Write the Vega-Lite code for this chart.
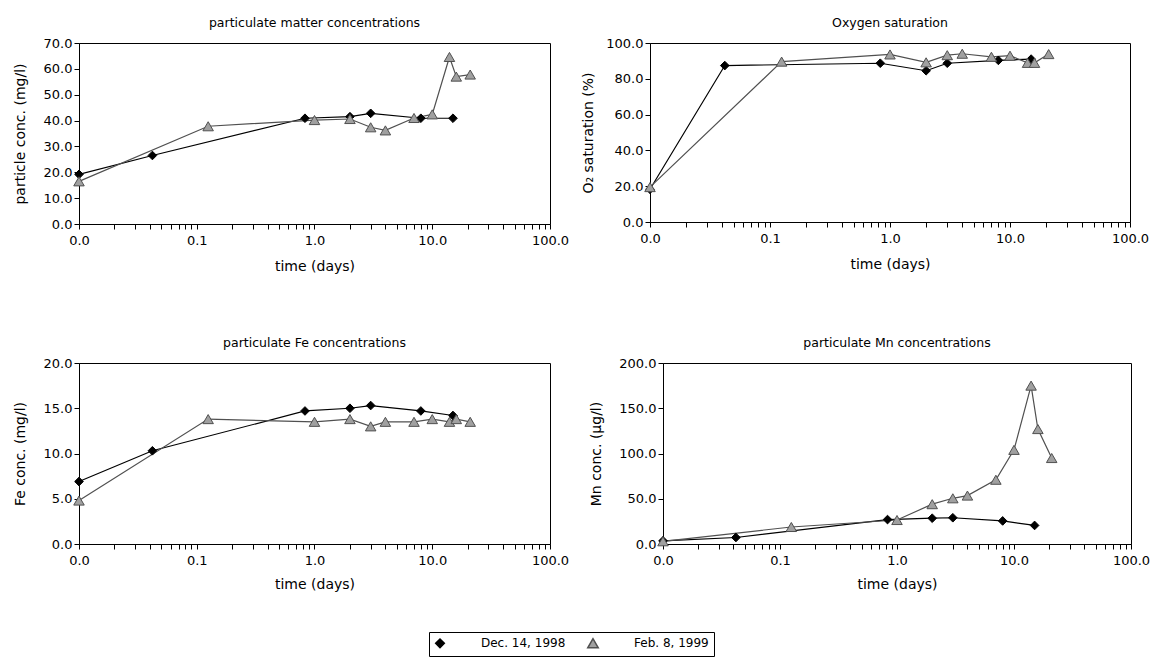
{
  "$schema": "https://vega.github.io/schema/vega-lite/v6.json",
  "padding": {"left": 12, "top": 16, "right": 5, "bottom": 5},
  "background": "white",
  "config": {
    "font": "DejaVu Sans",
    "view": {"stroke": "#000000", "strokeWidth": 1},
    "title": {"font": "DejaVu Sans", "fontSize": 12.5, "fontWeight": "normal", "color": "#000000", "offset": 8},
    "axis": {"labelFont": "DejaVu Sans", "titleFont": "DejaVu Sans", "labelFontSize": 13, "titleFontSize": 14, "titleFontWeight": "normal", "labelColor": "#000000", "titleColor": "#000000", "domainColor": "#000000", "tickColor": "#000000", "grid": false},
    "legend": {"labelFont": "DejaVu Sans", "labelFontSize": 12, "labelColor": "#000000"}
  },
  "datasets": {
    "d": [
      {"p": "pm", "s": "Dec. 14, 1998", "t": 0.01, "v": 19.2},
      {"p": "pm", "s": "Dec. 14, 1998", "t": 0.042, "v": 26.5},
      {"p": "pm", "s": "Dec. 14, 1998", "t": 0.83, "v": 40.9},
      {"p": "pm", "s": "Dec. 14, 1998", "t": 2, "v": 41.5},
      {"p": "pm", "s": "Dec. 14, 1998", "t": 3, "v": 42.8},
      {"p": "pm", "s": "Dec. 14, 1998", "t": 8, "v": 40.9},
      {"p": "pm", "s": "Dec. 14, 1998", "t": 15, "v": 40.9},
      {"p": "pm", "s": "Feb. 8, 1999", "t": 0.01, "v": 16.5},
      {"p": "pm", "s": "Feb. 8, 1999", "t": 0.125, "v": 37.8},
      {"p": "pm", "s": "Feb. 8, 1999", "t": 1, "v": 40.2},
      {"p": "pm", "s": "Feb. 8, 1999", "t": 2, "v": 40.6},
      {"p": "pm", "s": "Feb. 8, 1999", "t": 3, "v": 37.4},
      {"p": "pm", "s": "Feb. 8, 1999", "t": 4, "v": 36.2},
      {"p": "pm", "s": "Feb. 8, 1999", "t": 7, "v": 41},
      {"p": "pm", "s": "Feb. 8, 1999", "t": 10, "v": 42.4},
      {"p": "pm", "s": "Feb. 8, 1999", "t": 14, "v": 64.6},
      {"p": "pm", "s": "Feb. 8, 1999", "t": 16, "v": 57},
      {"p": "pm", "s": "Feb. 8, 1999", "t": 21, "v": 57.8},
      {"p": "o2", "s": "Dec. 14, 1998", "t": 0.01, "v": 18.3},
      {"p": "o2", "s": "Dec. 14, 1998", "t": 0.042, "v": 87.4},
      {"p": "o2", "s": "Dec. 14, 1998", "t": 0.83, "v": 88.7},
      {"p": "o2", "s": "Dec. 14, 1998", "t": 2, "v": 84.5},
      {"p": "o2", "s": "Dec. 14, 1998", "t": 3, "v": 88.7},
      {"p": "o2", "s": "Dec. 14, 1998", "t": 8, "v": 90.3},
      {"p": "o2", "s": "Dec. 14, 1998", "t": 15, "v": 91},
      {"p": "o2", "s": "Feb. 8, 1999", "t": 0.01, "v": 19.5},
      {"p": "o2", "s": "Feb. 8, 1999", "t": 0.125, "v": 89.6},
      {"p": "o2", "s": "Feb. 8, 1999", "t": 1, "v": 93.6},
      {"p": "o2", "s": "Feb. 8, 1999", "t": 2, "v": 89.2},
      {"p": "o2", "s": "Feb. 8, 1999", "t": 3, "v": 93.2},
      {"p": "o2", "s": "Feb. 8, 1999", "t": 4, "v": 94},
      {"p": "o2", "s": "Feb. 8, 1999", "t": 7, "v": 92.3},
      {"p": "o2", "s": "Feb. 8, 1999", "t": 10, "v": 92.9},
      {"p": "o2", "s": "Feb. 8, 1999", "t": 14, "v": 88.9},
      {"p": "o2", "s": "Feb. 8, 1999", "t": 16, "v": 88.9},
      {"p": "o2", "s": "Feb. 8, 1999", "t": 21, "v": 93.8},
      {"p": "fe", "s": "Dec. 14, 1998", "t": 0.01, "v": 6.9},
      {"p": "fe", "s": "Dec. 14, 1998", "t": 0.042, "v": 10.3},
      {"p": "fe", "s": "Dec. 14, 1998", "t": 0.83, "v": 14.7},
      {"p": "fe", "s": "Dec. 14, 1998", "t": 2, "v": 15},
      {"p": "fe", "s": "Dec. 14, 1998", "t": 3, "v": 15.3},
      {"p": "fe", "s": "Dec. 14, 1998", "t": 8, "v": 14.7},
      {"p": "fe", "s": "Dec. 14, 1998", "t": 15, "v": 14.2},
      {"p": "fe", "s": "Feb. 8, 1999", "t": 0.01, "v": 4.8},
      {"p": "fe", "s": "Feb. 8, 1999", "t": 0.125, "v": 13.8},
      {"p": "fe", "s": "Feb. 8, 1999", "t": 1, "v": 13.5},
      {"p": "fe", "s": "Feb. 8, 1999", "t": 2, "v": 13.8},
      {"p": "fe", "s": "Feb. 8, 1999", "t": 3, "v": 13},
      {"p": "fe", "s": "Feb. 8, 1999", "t": 4, "v": 13.5},
      {"p": "fe", "s": "Feb. 8, 1999", "t": 7, "v": 13.5},
      {"p": "fe", "s": "Feb. 8, 1999", "t": 10, "v": 13.8},
      {"p": "fe", "s": "Feb. 8, 1999", "t": 14, "v": 13.5},
      {"p": "fe", "s": "Feb. 8, 1999", "t": 16, "v": 13.8},
      {"p": "fe", "s": "Feb. 8, 1999", "t": 21, "v": 13.5},
      {"p": "mn", "s": "Dec. 14, 1998", "t": 0.01, "v": 3.5},
      {"p": "mn", "s": "Dec. 14, 1998", "t": 0.042, "v": 7.2},
      {"p": "mn", "s": "Dec. 14, 1998", "t": 0.83, "v": 27},
      {"p": "mn", "s": "Dec. 14, 1998", "t": 2, "v": 28.5},
      {"p": "mn", "s": "Dec. 14, 1998", "t": 3, "v": 29},
      {"p": "mn", "s": "Dec. 14, 1998", "t": 8, "v": 25.5},
      {"p": "mn", "s": "Dec. 14, 1998", "t": 15, "v": 20.5},
      {"p": "mn", "s": "Feb. 8, 1999", "t": 0.01, "v": 3},
      {"p": "mn", "s": "Feb. 8, 1999", "t": 0.125, "v": 18.8},
      {"p": "mn", "s": "Feb. 8, 1999", "t": 1, "v": 26.5},
      {"p": "mn", "s": "Feb. 8, 1999", "t": 2, "v": 44},
      {"p": "mn", "s": "Feb. 8, 1999", "t": 3, "v": 50.5},
      {"p": "mn", "s": "Feb. 8, 1999", "t": 4, "v": 53.5},
      {"p": "mn", "s": "Feb. 8, 1999", "t": 7, "v": 71},
      {"p": "mn", "s": "Feb. 8, 1999", "t": 10, "v": 104},
      {"p": "mn", "s": "Feb. 8, 1999", "t": 14, "v": 175},
      {"p": "mn", "s": "Feb. 8, 1999", "t": 16, "v": 127},
      {"p": "mn", "s": "Feb. 8, 1999", "t": 21, "v": 95}
    ]
  },
  "spacing": 62,
  "vconcat": [
    {
      "spacing": 11,
      "hconcat": [
        {
          "width": 471, "height": 181,
          "title": "particulate matter concentrations",
          "data": {"name": "d"},
          "transform": [{"filter": "datum.p == 'pm'"}],
          "encoding": {
            "x": {"field": "t", "type": "quantitative", "title": "time (days)", "scale": {"type": "log", "domain": [0.01, 100], "nice": false},
              "axis": {"values": [0.01,0.02,0.03,0.04,0.05,0.06,0.07,0.08,0.09,0.1,0.2,0.3,0.4,0.5,0.6,0.7,0.8,0.9,1,2,3,4,5,6,7,8,9,10,20,30,40,50,60,70,80,90,100],
                "labelExpr": "abs(log(datum.value)/LN10 - round(log(datum.value)/LN10)) < 0.000001 ? format(datum.value, '.1f') : ''",
                "labelFlush": false, "labelOverlap": false, "tickSize": 5, "labelPadding": 5, "titlePadding": 12,
                "encode": {"ticks": {"update": {"y": {"signal": "abs(log(datum.value)/LN10 - round(log(datum.value)/LN10)) < 0.000001 ? -5 : -3"}, "y2": {"signal": "abs(log(datum.value)/LN10 - round(log(datum.value)/LN10)) < 0.000001 ? 5 : 1"}}}}}},
            "y": {"field": "v", "type": "quantitative", "title": "particle conc. (mg/l)", "scale": {"domain": [0, 70], "nice": false},
              "axis": {"values": [0,10,20,30,40,50,60,70], "format": ".1f", "tickSize": 5, "labelPadding": 2, "titlePadding": 16}}
          },
          "layer": [
            {"mark": {"type": "line", "strokeWidth": 1.2},
             "encoding": {"stroke": {"field": "s", "type": "nominal", "scale": {"domain": ["Dec. 14, 1998", "Feb. 8, 1999"], "range": ["#000000", "#505050"]}}}},
            {"mark": {"type": "point", "filled": true, "strokeWidth": 1, "opacity": 1},
             "encoding": {
               "shape": {"field": "s", "type": "nominal", "scale": {"domain": ["Dec. 14, 1998", "Feb. 8, 1999"], "range": ["diamond", "triangle-up"]},
                 "legend": {"title": null, "orient": "none", "legendX": 350, "legendY": 589, "direction": "horizontal", "strokeColor": "#000000", "padding": 5, "symbolSize": 100, "labelOffset": 35, "columnPadding": 18,
                   "encode": {"symbols": {
                     "shape": {"value": {"expr": "datum.value === 'Dec. 14, 1998' ? 'M-0.6,0H2.6M4.4,0H7.6M3.5,-0.9L4.4,0L3.5,0.9L2.6,0Z' : 'M-0.6,0H3M4,0H7.6M3.5,-0.87L4.5,0.87L2.5,0.87Z'"}},
                     "fill": {"value": {"expr": "datum.value === 'Dec. 14, 1998' ? '#000000' : '#a0a0a0'"}},
                     "stroke": {"value": "#000000"}, "strokeWidth": {"value": 1}, "opacity": {"value": 1}}}}},
               "fill": {"field": "s", "type": "nominal", "scale": {"domain": ["Dec. 14, 1998", "Feb. 8, 1999"], "range": ["#000000", "#a0a0a0"]}},
               "stroke": {"field": "s", "type": "nominal"},
               "size": {"field": "s", "type": "nominal", "scale": {"domain": ["Dec. 14, 1998", "Feb. 8, 1999"], "range": [75, 110]}}
             }}
          ]
        },
        {
          "width": 480, "height": 179,
          "title": "Oxygen saturation",
          "data": {"name": "d"},
          "transform": [{"filter": "datum.p == 'o2'"}],
          "encoding": {
            "x": {"field": "t", "type": "quantitative", "title": "time (days)", "scale": {"type": "log", "domain": [0.01, 100], "nice": false},
              "axis": {"values": [0.01,0.02,0.03,0.04,0.05,0.06,0.07,0.08,0.09,0.1,0.2,0.3,0.4,0.5,0.6,0.7,0.8,0.9,1,2,3,4,5,6,7,8,9,10,20,30,40,50,60,70,80,90,100],
                "labelExpr": "abs(log(datum.value)/LN10 - round(log(datum.value)/LN10)) < 0.000001 ? format(datum.value, '.1f') : ''",
                "labelFlush": false, "labelOverlap": false, "tickSize": 5, "labelPadding": 5, "titlePadding": 12,
                "encode": {"ticks": {"update": {"y": {"signal": "abs(log(datum.value)/LN10 - round(log(datum.value)/LN10)) < 0.000001 ? -5 : -3"}, "y2": {"signal": "abs(log(datum.value)/LN10 - round(log(datum.value)/LN10)) < 0.000001 ? 5 : 1"}}}}}},
            "y": {"field": "v", "type": "quantitative", "title": "O₂ saturation (%)", "scale": {"domain": [0, 100], "nice": false},
              "axis": {"values": [0,20,40,60,80,100], "format": ".1f", "tickSize": 5, "labelPadding": 2, "titlePadding": 10}}
          },
          "layer": [
            {"mark": {"type": "line", "strokeWidth": 1.2},
             "encoding": {"stroke": {"field": "s", "type": "nominal", "scale": {"domain": ["Dec. 14, 1998", "Feb. 8, 1999"], "range": ["#000000", "#505050"]}}}},
            {"mark": {"type": "point", "filled": true, "strokeWidth": 1, "opacity": 1},
             "encoding": {
               "shape": {"field": "s", "type": "nominal", "scale": {"domain": ["Dec. 14, 1998", "Feb. 8, 1999"], "range": ["diamond", "triangle-up"]}},
               "fill": {"field": "s", "type": "nominal", "scale": {"domain": ["Dec. 14, 1998", "Feb. 8, 1999"], "range": ["#000000", "#a0a0a0"]}},
               "stroke": {"field": "s", "type": "nominal"},
               "size": {"field": "s", "type": "nominal", "scale": {"domain": ["Dec. 14, 1998", "Feb. 8, 1999"], "range": [75, 110]}}
             }}
          ]
        }
      ]
    },
    {
      "spacing": 19,
      "hconcat": [
        {
          "width": 471, "height": 181,
          "title": "particulate Fe concentrations",
          "data": {"name": "d"},
          "transform": [{"filter": "datum.p == 'fe'"}],
          "encoding": {
            "x": {"field": "t", "type": "quantitative", "title": "time (days)", "scale": {"type": "log", "domain": [0.01, 100], "nice": false},
              "axis": {"values": [0.01,0.02,0.03,0.04,0.05,0.06,0.07,0.08,0.09,0.1,0.2,0.3,0.4,0.5,0.6,0.7,0.8,0.9,1,2,3,4,5,6,7,8,9,10,20,30,40,50,60,70,80,90,100],
                "labelExpr": "abs(log(datum.value)/LN10 - round(log(datum.value)/LN10)) < 0.000001 ? format(datum.value, '.1f') : ''",
                "labelFlush": false, "labelOverlap": false, "tickSize": 5, "labelPadding": 5, "titlePadding": 10,
                "encode": {"ticks": {"update": {"y": {"signal": "abs(log(datum.value)/LN10 - round(log(datum.value)/LN10)) < 0.000001 ? -5 : -3"}, "y2": {"signal": "abs(log(datum.value)/LN10 - round(log(datum.value)/LN10)) < 0.000001 ? 5 : 1"}}}}}},
            "y": {"field": "v", "type": "quantitative", "title": "Fe conc. (mg/l)", "scale": {"domain": [0, 20], "nice": false},
              "axis": {"values": [0,5,10,15,20], "format": ".1f", "tickSize": 5, "labelPadding": 2, "titlePadding": 16}}
          },
          "layer": [
            {"mark": {"type": "line", "strokeWidth": 1.2},
             "encoding": {"stroke": {"field": "s", "type": "nominal", "scale": {"domain": ["Dec. 14, 1998", "Feb. 8, 1999"], "range": ["#000000", "#505050"]}}}},
            {"mark": {"type": "point", "filled": true, "strokeWidth": 1, "opacity": 1},
             "encoding": {
               "shape": {"field": "s", "type": "nominal", "scale": {"domain": ["Dec. 14, 1998", "Feb. 8, 1999"], "range": ["diamond", "triangle-up"]}},
               "fill": {"field": "s", "type": "nominal", "scale": {"domain": ["Dec. 14, 1998", "Feb. 8, 1999"], "range": ["#000000", "#a0a0a0"]}},
               "stroke": {"field": "s", "type": "nominal"},
               "size": {"field": "s", "type": "nominal", "scale": {"domain": ["Dec. 14, 1998", "Feb. 8, 1999"], "range": [75, 110]}}
             }}
          ]
        },
        {
          "width": 468, "height": 181,
          "title": "particulate Mn concentrations",
          "data": {"name": "d"},
          "transform": [{"filter": "datum.p == 'mn'"}],
          "encoding": {
            "x": {"field": "t", "type": "quantitative", "title": "time (days)", "scale": {"type": "log", "domain": [0.01, 100], "nice": false},
              "axis": {"values": [0.01,0.02,0.03,0.04,0.05,0.06,0.07,0.08,0.09,0.1,0.2,0.3,0.4,0.5,0.6,0.7,0.8,0.9,1,2,3,4,5,6,7,8,9,10,20,30,40,50,60,70,80,90,100],
                "labelExpr": "abs(log(datum.value)/LN10 - round(log(datum.value)/LN10)) < 0.000001 ? format(datum.value, '.1f') : ''",
                "labelFlush": false, "labelOverlap": false, "tickSize": 5, "labelPadding": 5, "titlePadding": 10,
                "encode": {"ticks": {"update": {"y": {"signal": "abs(log(datum.value)/LN10 - round(log(datum.value)/LN10)) < 0.000001 ? -5 : -3"}, "y2": {"signal": "abs(log(datum.value)/LN10 - round(log(datum.value)/LN10)) < 0.000001 ? 5 : 1"}}}}}},
            "y": {"field": "v", "type": "quantitative", "title": "Mn conc. (µg/l)", "scale": {"domain": [0, 200], "nice": false},
              "axis": {"values": [0,50,100,150,200], "format": ".1f", "tickSize": 5, "labelPadding": 2, "titlePadding": 15}}
          },
          "layer": [
            {"mark": {"type": "line", "strokeWidth": 1.2},
             "encoding": {"stroke": {"field": "s", "type": "nominal", "scale": {"domain": ["Dec. 14, 1998", "Feb. 8, 1999"], "range": ["#000000", "#505050"]}}}},
            {"mark": {"type": "point", "filled": true, "strokeWidth": 1, "opacity": 1},
             "encoding": {
               "shape": {"field": "s", "type": "nominal", "scale": {"domain": ["Dec. 14, 1998", "Feb. 8, 1999"], "range": ["diamond", "triangle-up"]}},
               "fill": {"field": "s", "type": "nominal", "scale": {"domain": ["Dec. 14, 1998", "Feb. 8, 1999"], "range": ["#000000", "#a0a0a0"]}},
               "stroke": {"field": "s", "type": "nominal"},
               "size": {"field": "s", "type": "nominal", "scale": {"domain": ["Dec. 14, 1998", "Feb. 8, 1999"], "range": [75, 110]}}
             }}
          ]
        }
      ]
    }
  ]
}
